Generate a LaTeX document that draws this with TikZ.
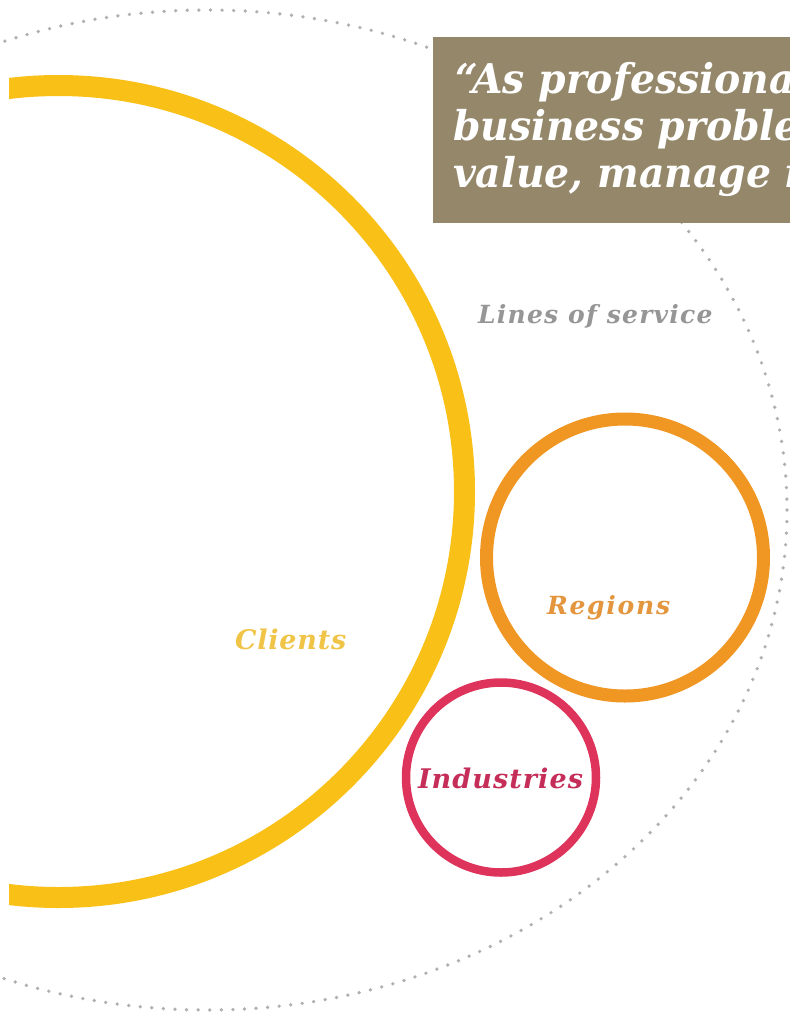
\documentclass[tikz,border=0pt]{standalone}
\usepackage{fontspec}
\newfontfamily\qfont{DejaVu Serif}[FakeStretch=0.96]
\newfontfamily\lfontLines{DejaVu Serif}[LetterSpace=5]
\newfontfamily\lfontClients{DejaVu Serif}[LetterSpace=3]
\newfontfamily\lfontRegions{DejaVu Serif}[LetterSpace=7]
\newfontfamily\lfontIndustries{DejaVu Serif}[LetterSpace=4]
\definecolor{ringyellow}{RGB}{249,192,24}
\definecolor{ringorange}{RGB}{240,150,35}
\definecolor{ringpink}{RGB}{222,52,92}
\definecolor{txtyellow}{RGB}{240,196,70}
\definecolor{txtorange}{RGB}{228,150,62}
\definecolor{txtpink}{RGB}{196,46,88}
\definecolor{txtgray}{RGB}{150,150,150}
\definecolor{boxolive}{RGB}{148,135,106}
\definecolor{dotgray}{RGB}{176,176,176}
\tikzset{
  ring/.style={circle, inner sep=0pt, outer sep=0pt, fill=none},
  dotring/.style={draw=dotgray, line width=3.7pt, line cap=round, dash pattern=on 0pt off 11.6pt},
  lbl/.style={inner sep=0pt, outer sep=0pt, anchor=base west},
  quoteline/.style={inner sep=0pt, outer sep=0pt, anchor=base west, text=white, font=\qfont\bfseries\itshape\fontsize{41}{41}\selectfont}
}
\begin{document}
\begin{tikzpicture}[x=1pt,y=-1pt]
\useasboundingbox (0,0) rectangle (790,1015);
\fill[white] (0,0) rectangle (790,1015);
\begin{scope}
\clip (0,0) rectangle (790,1015);
% dotted outer ring
\draw[dotring] (207,510) ellipse [x radius=580, y radius=500];
% clients ring (clipped at left)
\begin{scope}
\clip (9,0) rectangle (790,1015);
\node[ring, draw=ringyellow, line width=21pt, minimum size=812pt] (clients) at (58.5,491.5) {};
\end{scope}
% regions ring
\node[ring, draw=ringorange, line width=13pt, minimum size=277pt] (regions) at (625,557.5) {};
% industries ring
\node[ring, draw=ringpink, line width=8.5pt, minimum size=190pt] (industries) at (501,777.5) {};
% labels
\node[lbl, text=txtgray, font=\lfontLines\bfseries\itshape\fontsize{25}{25}\selectfont] (lines) at (478,323) {Lines of service};
\node[lbl, text=txtyellow, font=\lfontClients\bfseries\itshape\fontsize{27}{27}\selectfont] (clientslbl) at (235,649) {Clients};
\node[lbl, text=txtorange, font=\lfontRegions\bfseries\itshape\fontsize{25}{25}\selectfont] (regionslbl) at (547,614) {Regions};
\node[lbl, text=txtpink, font=\lfontIndustries\bfseries\itshape\fontsize{27}{27}\selectfont] (industrieslbl) at (418,788) {Industries};
% quote box (text runs past the right edge, as in the reference)
\fill[boxolive] (433,37) rectangle (800,223);
\node[quoteline] (q1) at (455,93) {“As professiona};
\node[quoteline] (q2) at (453,140) {business proble};
\node[quoteline] (q3) at (453,187) {value, manage r};
\end{scope}
\end{tikzpicture}
\end{document}
